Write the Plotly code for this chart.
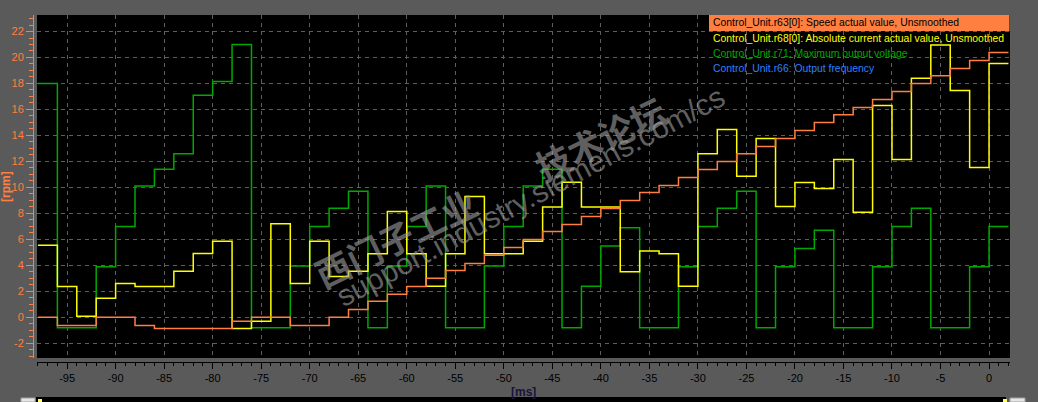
import plotly.graph_objects as go

# ---- data (sample times in ms, each value held for one 2 ms sample) ----
t = [-98, -96, -94, -92, -90, -88, -86, -84, -82, -80,
     -78, -76, -74, -72, -70, -68, -66, -64, -62, -60,
     -58, -56, -54, -52, -50, -48, -46, -44, -42, -40,
     -38, -36, -34, -32, -30, -28, -26, -24, -22, -20,
     -18, -16, -14, -12, -10, -8, -6, -4, -2, 0]
t_end = 2

speed = [0, -0.62, -0.62, 0, 0, -0.62, -0.85, -0.85, -0.85, -0.85,
         -0.3, 0, 0, -0.62, -0.62, 0, 0.6, 1.23, 1.77, 2.38,
         3.0, 3.6, 4.15, 4.77, 5.38, 6.0, 6.6, 7.15, 7.77, 8.38,
         9.0, 9.6, 10.15, 10.77, 11.38, 12.0, 12.6, 13.15, 13.77, 14.38,
         15.0, 15.6, 16.15, 16.77, 17.38, 18.0, 18.6, 19.15, 19.77, 20.38]

current = [5.54, 2.38, 0.08, 1.46, 2.6, 2.38, 2.38, 3.54, 4.92, 5.85,
           -0.85, -0.3, 7.2, 2.6, 5.85, 3.15, 3.54, 4.9, 8.15, 4.9,
           2.4, 4.9, 9.3, 4.9, 4.9, 5.85, 8.5, 10.4, 8.5, 8.5,
           3.5, 5.1, 4.9, 2.4, 12.6, 14.46, 10.85, 13.77, 8.54, 10.38,
           9.92, 12.15, 8.08, 16.3, 12.15, 18.4, 20.97, 17.46, 11.54, 19.54]

voltage = [18.0, -0.8, -0.8, 3.9, 7.0, 10.1, 11.4, 12.6, 17.1, 18.15,
           21.0, -0.8, -0.8, 3.95, 7.0, 8.4, 9.7, -0.8, 3.95, 7.0,
           10.1, -0.8, -0.8, 3.95, 7.0, 10.1, 11.4, -0.8, 2.4, 5.5,
           6.9, -0.8, -0.8, 3.9, 7.0, 8.4, 9.7, -0.8, 3.9, 5.3,
           6.7, -0.8, -0.8, 3.9, 7.0, 8.4, -0.8, -0.8, 3.9, 7.0]

legend_names = [
    "Control_Unit.r63[0]: Speed actual value, Unsmoothed",
    "Control_Unit.r68[0]: Absolute current actual value, Unsmoothed",
    "Control_Unit.r71: Maximum output voltage",
    "Control_Unit.r66: Output frequency",
]

x_ticks = [-95, -90, -85, -80, -75, -70, -65, -60, -55, -50,
           -45, -40, -35, -30, -25, -20, -15, -10, -5, 0]
y_ticks = [-2, 0, 2, 4, 6, 8, 10, 12, 14, 16, 18, 20, 22]

ORANGE = "#ff7f40"
YELLOW = "#ffff00"
GREEN = "#00a800"
BLUE = "#2a82ff"
BG = "#5a5a5a"
GRID = "#5e5e5e"
WM = "rgba(160,160,160,0.6)"

W, H = 1038, 402
ML, MR, MT, MB = 33, 28, 15, 40
PW = W - ML - MR
PH = H - MT - MB


def px(x):
    return (x - ML) / PW


def py(y):
    return (H - MB - y) / PH


fig = go.Figure()
for name, vals, color in [(legend_names[2], voltage, GREEN),
                          (legend_names[1], current, YELLOW),
                          (legend_names[0], speed, ORANGE)]:
    fig.add_trace(go.Scatter(
        x=t + [t_end], y=vals + [vals[-1]], mode="lines", name=name,
        line=dict(color=color, width=1.5, shape="hv"),
        showlegend=False, hoverinfo="skip"))

FONT = "Liberation Sans, Arial, sans-serif"

annotations = []
row_y = [23, 38.5, 53.5, 68.5]
row_col = ["#000000", YELLOW, GREEN, BLUE]
for name, yy, col in zip(legend_names, row_y, row_col):
    annotations.append(dict(
        text=name, xref="paper", yref="paper", x=px(711), y=py(yy),
        xanchor="left", yanchor="middle", showarrow=False,
        font=dict(family=FONT, size=10.4, color=col)))

annotations.append(dict(
    text="[ms]", xref="paper", yref="paper", x=px(523), y=py(392),
    xanchor="center", yanchor="middle", showarrow=False,
    font=dict(family="Liberation Sans, Arial", size=12, color="#15153a", weight="bold")))
annotations.append(dict(
    text="[rpm]", xref="paper", yref="paper", x=px(6), y=py(187),
    xanchor="center", yanchor="middle", showarrow=False, textangle=-90,
    font=dict(family="Liberation Sans, Arial", size=12, color=ORANGE, weight="bold")))

# watermark
annotations.append(dict(
    text="西门子工业　　技术论坛", xref="paper", yref="paper",
    x=px(489), y=py(191), xanchor="center", yanchor="middle", showarrow=False,
    textangle=-26,
    font=dict(family="Noto Sans CJK SC", size=35, color=WM, weight="bold")))
annotations.append(dict(
    text="support.industry.siemens.com/cs", xref="paper", yref="paper",
    x=px(530), y=py(196), xanchor="center", yanchor="middle", showarrow=False,
    textangle=-28,
    font=dict(family="Liberation Sans, Arial", size=30, color=WM)))

shapes = [
    # legend first-row highlight
    dict(type="rect", xref="paper", yref="paper", x0=px(709), x1=px(1009.5),
         y0=py(31), y1=py(15), fillcolor=ORANGE, line=dict(width=0), layer="above"),
    # bottom scroll strip
    dict(type="rect", xref="paper", yref="paper", x0=px(36), x1=px(1006),
         y0=py(402), y1=py(397), fillcolor="#000000", line=dict(width=0)),
    dict(type="rect", xref="paper", yref="paper", x0=px(21), x1=px(35),
         y0=py(402), y1=py(398), fillcolor="#e6e6e6", line=dict(color="#a0a0a0", width=1)),
    dict(type="rect", xref="paper", yref="paper", x0=px(1010), x1=px(1025),
         y0=py(402), y1=py(398), fillcolor="#e6e6e6", line=dict(color="#a0a0a0", width=1)),
    dict(type="rect", xref="paper", yref="paper", x0=px(38), x1=px(42),
         y0=py(402), y1=py(399), fillcolor="#ffff60", line=dict(width=0)),
    dict(type="rect", xref="paper", yref="paper", x0=px(1003), x1=px(1007),
         y0=py(402), y1=py(399), fillcolor="#ffff60", line=dict(width=0)),
]

fig.update_layout(
    width=W, height=H,
    margin=dict(l=ML, r=MR, t=MT, b=MB, pad=0),
    paper_bgcolor=BG, plot_bgcolor="#000000",
    showlegend=False,
    annotations=annotations, shapes=shapes,
    xaxis=dict(
        domain=[px(37), 1], range=[-98.1, 2.16], anchor="free", position=0,
        tickmode="array", tickvals=x_ticks, ticktext=[str(v) for v in x_ticks],
        showgrid=True, gridcolor=GRID, griddash="4px,4px", gridwidth=1,
        zeroline=False, showline=True, linecolor="#000000", linewidth=1,
        ticks="outside", ticklen=6, tickcolor="#000000", tickwidth=1,
        tickfont=dict(family="Liberation Sans, Arial", size=11, color="#000000"),
        minor=dict(tickmode="linear", tick0=0, dtick=1, ticks="outside", ticklen=3,
                   tickcolor="#000000", showgrid=False),
    ),
    yaxis=dict(
        domain=[py(358), 1], range=[-3.13, 23.27], anchor="free", position=0,
        tickmode="array", tickvals=y_ticks, ticktext=[str(v) for v in y_ticks],
        showgrid=True, gridcolor=GRID, griddash="4px,4px", gridwidth=1,
        zeroline=False, showline=True, linecolor=ORANGE, linewidth=1,
        ticks="outside", ticklen=7, tickcolor=ORANGE, tickwidth=1,
        tickfont=dict(family="Liberation Sans, Arial", size=11, color=ORANGE),
        minor=dict(tickmode="linear", tick0=0, dtick=0.5, ticks="outside", ticklen=4,
                   tickcolor=ORANGE, showgrid=False),
    ),
)

fig.write_html(
    "out.html",
    config={"displayModeBar": False},
    post_script="document.body.style.margin='0';document.body.style.overflow='hidden';",
)
